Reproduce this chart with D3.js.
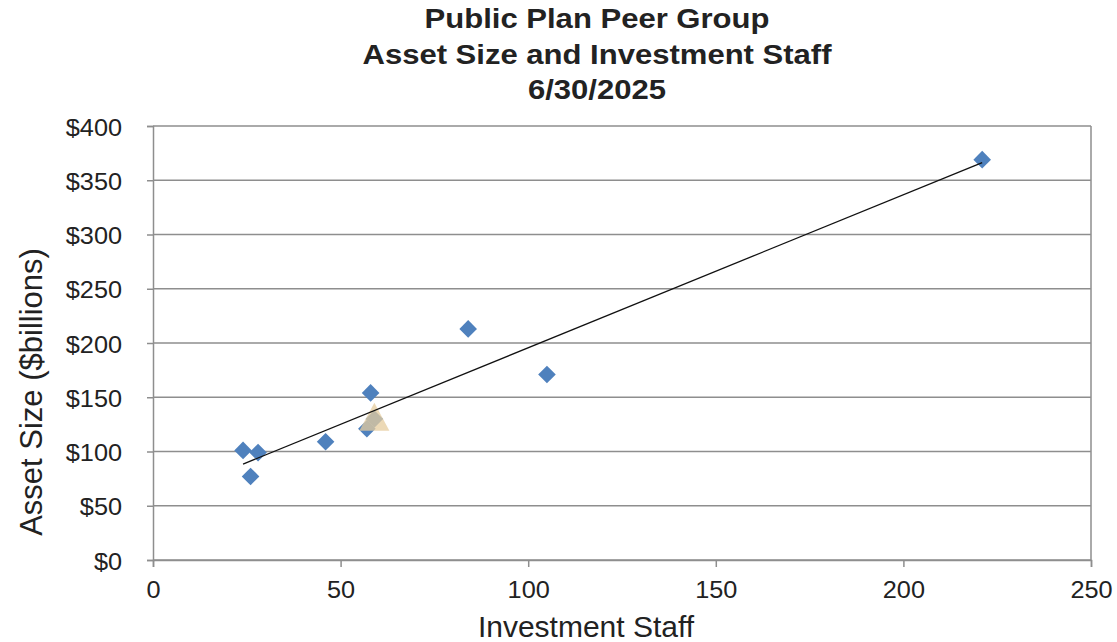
<!DOCTYPE html>
<html>
<head>
<meta charset="utf-8">
<script src="https://cdn.jsdelivr.net/npm/d3@7"></script>
<style>
body { margin: 0; background: #fff; }
text { font-family: "Liberation Sans", Arial, sans-serif; fill: #222; }
</style>
</head>
<body>
<svg id="chart"></svg>
<script>
// data
var peerStaff  = [24, 26, 28, 46, 57, 58, 59, 84, 105, 221];
var peerAssets = [101, 77, 99, 109, 121, 154, 130, 213, 171, 369];
var planStaff  = [59];
var planAssets = [132];
var xTicks = [0, 50, 100, 150, 200, 250];
var yTicks = [0, 50, 100, 150, 200, 250, 300, 350, 400];
var titleLines = ["Public Plan Peer Group", "Asset Size and Investment Staff", "6/30/2025"];

var W = 1117, H = 642;
var svg = d3.select("#chart").attr("width", W).attr("height", H);

var plotL = 153, plotR = 1091, plotT = 126, plotB = 560;
var tickSx = 1.1;

var xScale = d3.scaleLinear().domain([0, 250]).range([plotL, plotR]);
var yScale = d3.scaleLinear().domain([0, 400]).range([plotB, plotT]);

// gridlines
svg.append("g").selectAll("line")
    .data(yTicks)
    .enter().append("line")
    .attr("x1", plotL).attr("x2", plotR)
    .attr("y1", function(d) { return yScale(d); })
    .attr("y2", function(d) { return yScale(d); })
    .attr("stroke", "#8e8e8e").attr("stroke-width", 1.5);

// right border
svg.append("line")
    .attr("x1", plotR).attr("x2", plotR).attr("y1", plotT).attr("y2", plotB)
    .attr("stroke", "#8e8e8e").attr("stroke-width", 1.5);

var yAxis = svg.append("g")
    .attr("transform", "translate(" + plotL + ",0)")
    .call(d3.axisLeft(yScale).tickValues(yTicks).tickSize(6)
        .tickFormat(function(d) { return "$" + d; }));

var xAxis = svg.append("g")
    .attr("transform", "translate(0," + plotB + ")")
    .call(d3.axisBottom(xScale).tickValues(xTicks).tickSize(7));

[yAxis, xAxis].forEach(function(a) {
    a.select(".domain").attr("stroke", "#8e8e8e").attr("stroke-width", 1.5);
    a.selectAll(".tick line").attr("stroke", "#8e8e8e").attr("stroke-width", 1.5);
    a.selectAll("text").attr("font-size", 23).attr("fill", "#222")
        .style("font-family", "'Liberation Sans', Arial, sans-serif");
});

yAxis.selectAll("text")
    .attr("x", -31 / tickSx).attr("dy", "0.4em")
    .attr("transform", "scale(" + tickSx + ",1)");

xAxis.selectAll("text")
    .attr("y", 38).attr("dy", 0)
    .attr("transform", "scale(" + tickSx + ",1)")
    .attr("x", 0);

// peers
var peers = peerStaff.map(function(s, i) { return { x: s, y: peerAssets[i] }; });
var plan = planStaff.map(function(s, i) { return { x: s, y: planAssets[i] }; });

var diamond = d3.symbol().type(d3.symbolSquare).size(155);

svg.append("g").selectAll("path")
    .data(peers)
    .enter().append("path")
    .attr("d", diamond)
    .attr("transform", function(d) {
        return "translate(" + xScale(d.x) + "," + yScale(d.y) + ") rotate(45)";
    })
    .attr("fill", "#4f81bd");

svg.append("g").selectAll("path")
    .data(plan)
    .enter().append("path")
    .attr("d", "M0,-14L15,14L-15,14Z")
    .attr("transform", function(d) {
        return "translate(" + xScale(d.x) + "," + yScale(d.y) + ")";
    })
    .attr("fill", "#e6cc9e")
    .attr("fill-opacity", 0.75);

// linear trend through the peers
var mx = d3.mean(peers, function(d) { return d.x; });
var my = d3.mean(peers, function(d) { return d.y; });
var slope = d3.sum(peers, function(d) { return (d.x - mx) * (d.y - my); }) /
            d3.sum(peers, function(d) { return (d.x - mx) * (d.x - mx); });
var icpt = my - slope * mx;
var ext = d3.extent(peers, function(d) { return d.x; });

svg.append("line")
    .attr("x1", xScale(ext[0])).attr("y1", yScale(icpt + slope * ext[0]))
    .attr("x2", xScale(ext[1])).attr("y2", yScale(icpt + slope * ext[1]))
    .attr("stroke", "#111").attr("stroke-width", 1.3);

// title
svg.append("g").selectAll("text")
    .data(titleLines)
    .enter().append("text")
    .attr("transform", function(d, i) {
        return "translate(597," + (28 + i * 35.5) + ") scale(1.15,1)";
    })
    .attr("text-anchor", "middle")
    .attr("font-size", 27)
    .attr("font-weight", "bold")
    .attr("fill", "#000")
    .text(function(d) { return d; });

// axis titles
svg.append("text")
    .attr("x", 586).attr("y", 637)
    .attr("text-anchor", "middle")
    .attr("font-size", 30)
    .text("Investment Staff");

svg.append("text")
    .attr("transform", "translate(42,392) rotate(-90)")
    .attr("text-anchor", "middle")
    .attr("font-size", 31)
    .text("Asset Size ($billions)");
</script>
</body>
</html>
